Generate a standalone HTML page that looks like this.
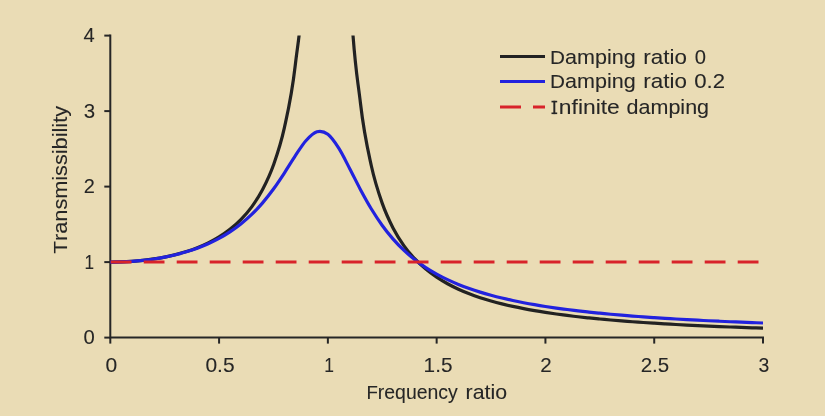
<!DOCTYPE html>
<html><head><meta charset="utf-8"><style>
html,body{margin:0;padding:0;background:#EADCB5;}
svg{display:block;will-change:transform;}
text{font-family:"Liberation Sans",sans-serif;fill:#262626;stroke:#262626;stroke-width:0.08px;}
</style></head><body>
<svg width="825" height="416" viewBox="0 0 825 416">
<rect width="825" height="416" fill="#EADCB5"/>
<defs><clipPath id="pa"><rect x="100" y="35.40" width="680" height="302.20"/></clipPath></defs>

<g stroke="#262626" stroke-width="2" fill="none">
<path d="M110.3,34.60000000000002 L110.3,338.6 M109.3,337.6 L764.0,337.6"/>
<path d="M104.3,337.60 L110.3,337.60"/>
<path d="M104.3,262.10 L110.3,262.10"/>
<path d="M104.3,186.60 L110.3,186.60"/>
<path d="M104.3,111.10 L110.3,111.10"/>
<path d="M104.3,35.60 L110.3,35.60"/>
<path d="M110.30,337.6 L110.30,343.6"/>
<path d="M219.08,337.6 L219.08,343.6"/>
<path d="M327.87,337.6 L327.87,343.6"/>
<path d="M436.65,337.6 L436.65,343.6"/>
<path d="M545.43,337.6 L545.43,343.6"/>
<path d="M654.22,337.6 L654.22,343.6"/>
<path d="M763.00,337.6 L763.00,343.6"/>
</g>
<g clip-path="url(#pa)" fill="none" stroke-width="3.2" stroke-linejoin="round">
<path d="M110.30,262.10 C112.11,262.07 117.55,262.04 121.18,261.91 C124.80,261.78 128.43,261.60 132.06,261.34 C135.68,261.08 139.31,260.76 142.94,260.36 C146.56,259.96 150.19,259.50 153.81,258.95 C157.44,258.40 161.07,257.79 164.69,257.07 C168.32,256.35 171.94,255.55 175.57,254.63 C179.20,253.72 182.82,252.71 186.45,251.56 C190.07,250.41 193.70,249.16 197.33,247.72 C200.95,246.28 204.58,244.73 208.21,242.93 C211.83,241.13 215.46,239.20 219.08,236.93 C222.71,234.67 226.34,232.24 229.96,229.36 C233.59,226.47 237.21,223.38 240.84,219.63 C244.47,215.88 248.09,211.88 251.72,206.86 C255.34,201.85 258.97,196.53 262.60,189.56 C266.22,182.59 269.85,175.31 273.48,165.03 C277.10,154.75 280.73,144.46 284.35,127.88 C287.98,111.29 291.61,96.80 295.23,65.53 C298.86,34.25 302.48,23.95 306.11,-59.77 C309.74,-143.48 315.18,-373.93 316.99,-436.76 M338.75,-398.99 C340.56,-336.14 346.00,-105.67 349.62,-21.92 C353.25,61.82 356.88,72.17 360.50,103.49 C364.13,134.81 367.75,149.36 371.38,166.01 C375.01,182.66 378.63,193.02 382.26,203.38 C385.88,213.74 389.51,221.11 393.14,228.18 C396.76,235.25 400.39,240.68 404.02,245.81 C407.64,250.94 411.27,255.07 414.89,258.95 C418.52,262.84 422.15,266.08 425.77,269.12 C429.40,272.16 433.02,274.76 436.65,277.20 C440.28,279.64 443.90,281.77 447.53,283.77 C451.15,285.77 454.78,287.54 458.41,289.20 C462.03,290.87 465.66,292.36 469.29,293.77 C472.91,295.18 476.54,296.45 480.16,297.65 C483.79,298.86 487.42,299.95 491.04,300.99 C494.67,302.03 498.29,302.99 501.92,303.89 C505.55,304.80 509.17,305.64 512.80,306.43 C516.42,307.23 520.05,307.97 523.68,308.67 C527.30,309.38 530.93,310.03 534.56,310.66 C538.18,311.29 541.81,311.87 545.43,312.43 C549.06,312.99 552.69,313.52 556.31,314.02 C559.94,314.53 563.56,315.00 567.19,315.46 C570.82,315.91 574.44,316.34 578.07,316.76 C581.69,317.17 585.32,317.56 588.95,317.94 C592.57,318.31 596.20,318.67 599.83,319.02 C603.45,319.36 607.08,319.69 610.70,320.00 C614.33,320.32 617.96,320.62 621.58,320.91 C625.21,321.20 628.83,321.47 632.46,321.74 C636.09,322.01 639.71,322.26 643.34,322.51 C646.96,322.75 650.59,322.99 654.22,323.22 C657.84,323.45 661.47,323.67 665.10,323.88 C668.72,324.09 672.35,324.29 675.97,324.49 C679.60,324.69 683.23,324.88 686.85,325.06 C690.48,325.25 694.10,325.42 697.73,325.60 C701.36,325.77 704.98,325.93 708.61,326.10 C712.23,326.26 715.86,326.41 719.49,326.56 C723.11,326.71 726.74,326.86 730.37,327.00 C733.99,327.14 737.62,327.28 741.24,327.41 C744.87,327.54 748.50,327.67 752.12,327.80 C755.75,327.92 761.19,328.10 763.00,328.16" stroke="#222222"/>
<path d="M110.30,262.10 C112.11,262.07 117.55,262.04 121.18,261.91 C124.80,261.78 128.43,261.60 132.06,261.34 C135.68,261.08 139.31,260.76 142.94,260.37 C146.56,259.97 150.19,259.52 153.81,258.98 C157.44,258.43 161.07,257.82 164.69,257.12 C168.32,256.42 171.94,255.64 175.57,254.75 C179.20,253.87 182.82,252.90 186.45,251.81 C190.07,250.71 193.70,249.52 197.33,248.18 C200.95,246.84 204.58,245.40 208.21,243.77 C211.83,242.14 215.46,240.38 219.08,238.41 C222.71,236.43 226.34,234.30 229.96,231.90 C233.59,229.50 237.21,226.92 240.84,224.01 C244.47,221.09 248.09,217.95 251.72,214.43 C255.34,210.90 258.97,207.08 262.60,202.84 C266.22,198.60 269.85,193.98 273.48,189.01 C277.10,184.04 280.73,178.54 284.35,173.02 C287.98,167.50 291.61,161.32 295.23,155.90 C298.86,150.47 302.48,144.50 306.11,140.47 C309.74,136.44 313.36,132.75 316.99,131.72 C320.61,130.70 324.24,131.57 327.87,134.31 C331.49,137.05 335.12,142.50 338.75,148.19 C342.37,153.87 346.00,161.50 349.62,168.42 C353.25,175.33 356.88,182.91 360.50,189.67 C364.13,196.43 367.75,203.02 371.38,208.99 C375.01,214.95 378.63,220.42 382.26,225.44 C385.88,230.46 389.51,234.95 393.14,239.11 C396.76,243.27 400.39,246.95 404.02,250.39 C407.64,253.83 411.27,256.88 414.89,259.74 C418.52,262.60 422.15,265.15 425.77,267.54 C429.40,269.93 433.02,272.08 436.65,274.10 C440.28,276.12 443.90,277.95 447.53,279.67 C451.15,281.39 454.78,282.96 458.41,284.44 C462.03,285.92 465.66,287.27 469.29,288.56 C472.91,289.84 476.54,291.02 480.16,292.14 C483.79,293.27 487.42,294.30 491.04,295.29 C494.67,296.27 498.29,297.19 501.92,298.06 C505.55,298.93 509.17,299.74 512.80,300.52 C516.42,301.30 520.05,302.02 523.68,302.72 C527.30,303.41 530.93,304.06 534.56,304.68 C538.18,305.31 541.81,305.90 545.43,306.46 C549.06,307.02 552.69,307.55 556.31,308.06 C559.94,308.58 563.56,309.06 567.19,309.52 C570.82,309.99 574.44,310.43 578.07,310.85 C581.69,311.28 585.32,311.68 588.95,312.07 C592.57,312.46 596.20,312.83 599.83,313.19 C603.45,313.55 607.08,313.89 610.70,314.22 C614.33,314.55 617.96,314.86 621.58,315.17 C625.21,315.47 628.83,315.76 632.46,316.05 C636.09,316.33 639.71,316.60 643.34,316.86 C646.96,317.13 650.59,317.38 654.22,317.62 C657.84,317.87 661.47,318.10 665.10,318.33 C668.72,318.56 672.35,318.78 675.97,318.99 C679.60,319.20 683.23,319.41 686.85,319.61 C690.48,319.81 694.10,320.00 697.73,320.19 C701.36,320.38 704.98,320.56 708.61,320.73 C712.23,320.91 715.86,321.08 719.49,321.24 C723.11,321.41 726.74,321.57 730.37,321.73 C733.99,321.88 737.62,322.04 741.24,322.18 C744.87,322.33 748.50,322.47 752.12,322.61 C755.75,322.75 761.19,322.95 763.00,323.02" stroke="#2222DE"/>
<path d="M110.3,262.1 L763.0,262.1" stroke="#D8232A" stroke-width="3" stroke-dasharray="20.8 12.2" stroke-dashoffset="-0.4"/>
</g>
<text x="83.52" y="42.20" font-size="19.8" textLength="11.21" lengthAdjust="spacingAndGlyphs">4</text>
<text x="83.82" y="117.70" font-size="19.8" textLength="11.40" lengthAdjust="spacingAndGlyphs">3</text>
<text x="83.69" y="193.20" font-size="19.8" textLength="11.11" lengthAdjust="spacingAndGlyphs">2</text>
<text x="84.40" y="268.70" font-size="19.8" textLength="9.58" lengthAdjust="spacingAndGlyphs">1</text>
<text x="83.43" y="344.20" font-size="19.8" textLength="11.25" lengthAdjust="spacingAndGlyphs">0</text>
<text x="105.40" y="371.80" font-size="19.8" textLength="11.71" lengthAdjust="spacingAndGlyphs">0</text>
<text x="205.41" y="371.80" font-size="19.8" textLength="29.14" lengthAdjust="spacingAndGlyphs">0.5</text>
<text x="324.18" y="371.80" font-size="19.8" textLength="9.71" lengthAdjust="spacingAndGlyphs">1</text>
<text x="423.63" y="371.80" font-size="19.8" textLength="28.86" lengthAdjust="spacingAndGlyphs">1.5</text>
<text x="540.36" y="371.80" font-size="19.8" textLength="11.47" lengthAdjust="spacingAndGlyphs">2</text>
<text x="640.66" y="371.80" font-size="19.8" textLength="28.51" lengthAdjust="spacingAndGlyphs">2.5</text>
<text x="758.46" y="371.80" font-size="19.8" textLength="10.81" lengthAdjust="spacingAndGlyphs">3</text>
<text x="366.43" y="398.50" font-size="19.8" textLength="91.40" lengthAdjust="spacingAndGlyphs"><tspan font-size="19.0">F</tspan>requency</text>
<text x="465.55" y="398.50" font-size="19.8" textLength="41.54" lengthAdjust="spacingAndGlyphs">ratio</text>
<g transform="translate(67.1,0) rotate(-90)"><text x="-253.71" y="0.00" font-size="19.8" textLength="147.71" lengthAdjust="spacingAndGlyphs"><tspan font-size="19.0">T</tspan>ransmissibility</text></g>
<g fill="none" stroke-width="3">
<path d="M500,56.5 L545,56.5" stroke="#222222"/>
<path d="M500,81.5 L545,81.5" stroke="#2222DE"/>
<path d="M500,107 L545,107" stroke="#D8232A" stroke-dasharray="21 12"/>
</g>
<text x="550.07" y="63.60" font-size="19.8" textLength="85.59" lengthAdjust="spacingAndGlyphs"><tspan font-size="19.0">D</tspan>amping</text>
<text x="643.39" y="63.60" font-size="19.8" textLength="43.55" lengthAdjust="spacingAndGlyphs">ratio</text>
<text x="694.73" y="63.60" font-size="19.8" textLength="11.25" lengthAdjust="spacingAndGlyphs">0</text>
<text x="550.07" y="88.40" font-size="19.8" textLength="85.59" lengthAdjust="spacingAndGlyphs"><tspan font-size="19.0">D</tspan>amping</text>
<text x="643.39" y="88.40" font-size="19.8" textLength="43.55" lengthAdjust="spacingAndGlyphs">ratio</text>
<text x="694.16" y="88.40" font-size="19.8" textLength="30.82" lengthAdjust="spacingAndGlyphs">0.2</text>
<text x="558.86" y="114.10" font-size="19.8" textLength="60.96" lengthAdjust="spacingAndGlyphs">nfinite</text>
<g fill="#262626"><rect x="553.35" y="100.80" width="1.95" height="13.3"/><rect x="551.5" y="100.80" width="5.7" height="1.6"/><rect x="551.5" y="112.50" width="5.7" height="1.6"/></g>
<text x="626.58" y="114.10" font-size="19.8" textLength="82.49" lengthAdjust="spacingAndGlyphs">damping</text>
</svg></body></html>
